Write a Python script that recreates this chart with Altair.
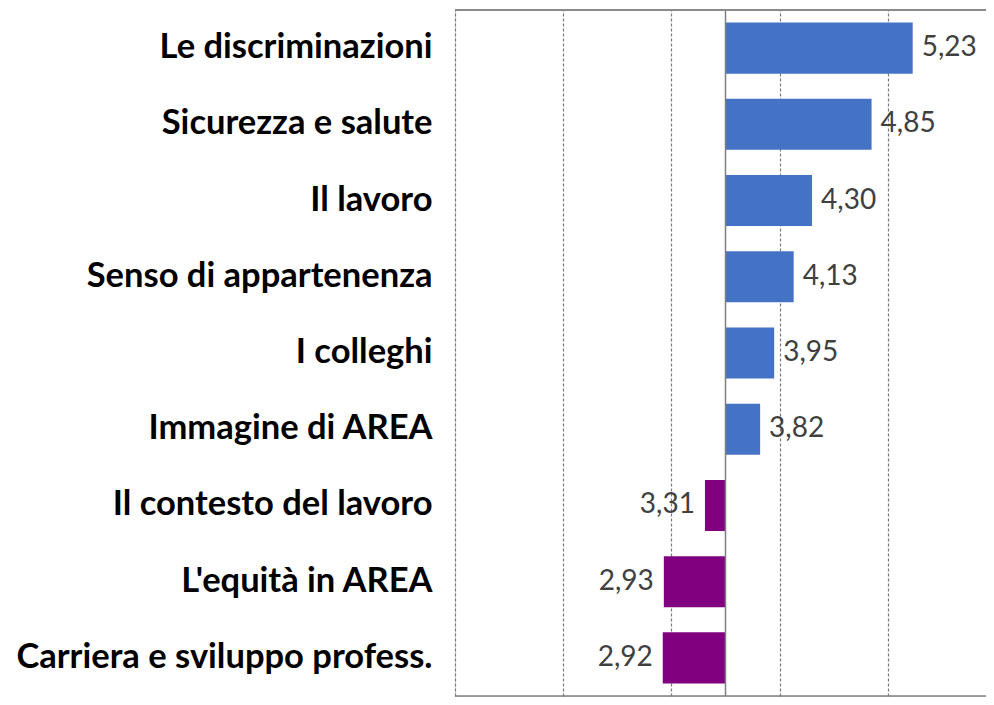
import altair as alt
import pandas as pd

categories = [
    "Le discriminazioni",
    "Sicurezza e salute",
    "Il lavoro",
    "Senso di appartenenza",
    "I colleghi",
    "Immagine di AREA",
    "Il contesto del lavoro",
    "L'equità in AREA",
    "Carriera e sviluppo profess.",
]
values = [5.23, 4.85, 4.30, 4.13, 3.95, 3.82, 3.31, 2.93, 2.92]
baseline = 3.5
grid_values = [1, 2, 3, 4, 5]
blue = "#4472C4"
purple = "#800080"

df = pd.DataFrame({"cat": categories, "val": values})
df["grp"] = ["sopra" if v >= baseline else "sotto" for v in values]
df["base"] = baseline

W, H = 531, 686
x_max = 1 + W / 108.2

x = alt.X(
    "val:Q",
    scale=alt.Scale(domain=[1, x_max], nice=False, zero=False),
    axis=alt.Axis(
        values=grid_values, grid=True, gridDash=[3, 2], gridColor="#7a7a7a",
        gridWidth=1.2, labels=False, ticks=False, domain=False, title=None,
    ),
)
y = alt.Y(
    "cat:N",
    sort=categories,
    scale=alt.Scale(paddingInner=0.33, paddingOuter=0.165),
    axis=alt.Axis(
        title=None, ticks=False, domain=False, labelFont="Lato",
        labelFontWeight="bold", labelFontSize=34.5, labelColor="black",
        labelPadding=23, labelLimit=600,
    ),
)

base = alt.Chart(df)

bars = base.mark_bar().encode(
    y=y,
    x=x,
    x2="base:Q",
    color=alt.Color(
        "grp:N",
        scale=alt.Scale(domain=["sopra", "sotto"], range=[blue, purple]),
        legend=None,
    ),
)

lab = base.transform_calculate(
    lbl="replace(format(datum.val, '.2f'), '.', ',')"
)
txt_pos = lab.transform_filter(f"datum.val >= {baseline}").mark_text(
    align="left", baseline="middle", dx=9, font="Lato", fontSize=28, color="#404040"
).encode(y=alt.Y("cat:N", sort=categories), x="val:Q", text="lbl:N")
txt_neg = lab.transform_filter(f"datum.val < {baseline}").mark_text(
    align="right", baseline="middle", dx=-10, font="Lato", fontSize=28, color="#404040"
).encode(y=alt.Y("cat:N", sort=categories), x="val:Q", text="lbl:N")

base_rule = alt.Chart(pd.DataFrame({"b": [baseline]})).mark_rule(
    color="#7f7f7f", strokeWidth=1.5
).encode(x="b:Q")

top_rule = alt.Chart(pd.DataFrame({"e": [0]})).mark_rule(
    color="#8a8a8a", strokeWidth=2
).encode(x=alt.value(0), x2=alt.value(W), y=alt.value(0))
bottom_rule = alt.Chart(pd.DataFrame({"e": [0]})).mark_rule(
    color="#7f7f7f", strokeWidth=1.5
).encode(x=alt.value(0), x2=alt.value(W), y=alt.value(H))

chart = (
    alt.layer(bars, base_rule, txt_pos, txt_neg, top_rule, bottom_rule)
    .properties(
        width=W,
        height=H,
        autosize=alt.AutoSizeParams(type="none"),
        padding={"left": 447, "top": 2, "right": 0, "bottom": 1},
    )
    .configure_view(stroke=None)
    .configure(background="white")
)

chart.save("out.html", embed_options={"renderer": "svg", "actions": False})
